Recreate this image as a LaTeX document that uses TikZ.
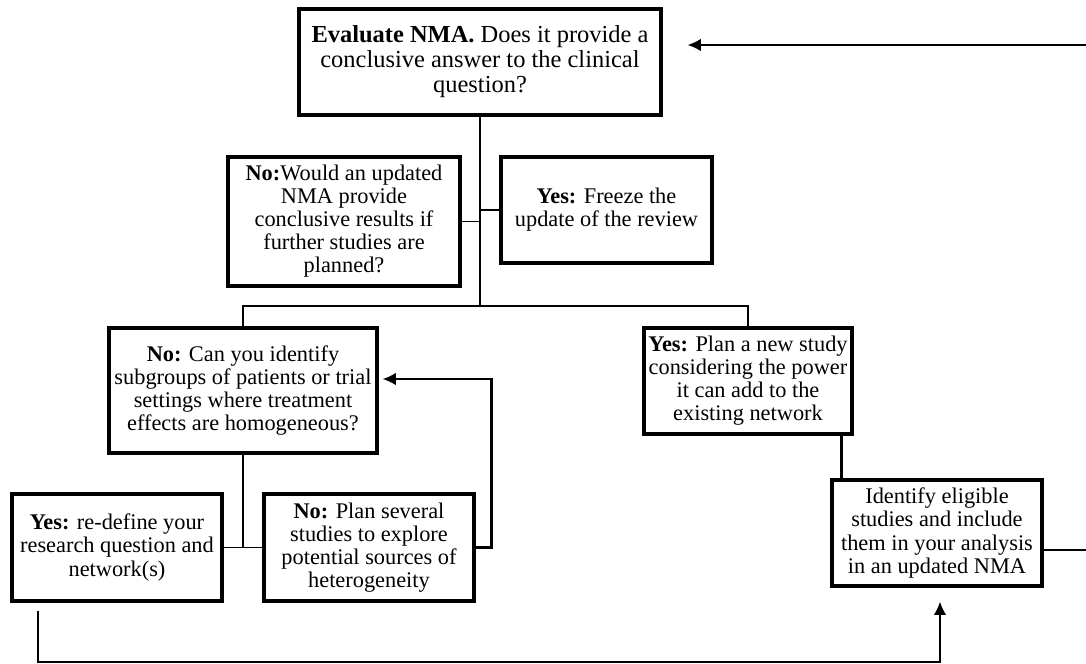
\documentclass[tikz,border=0pt]{standalone}
\usepackage{fontspec}
\setmainfont{Liberation Serif}
\usepackage{tikz}
\usetikzlibrary{calc, arrows.meta, positioning}

\begin{document}
\begin{tikzpicture}
      % Styles for boxes and lines
      \tikzset{box/.style={draw, line width=2.2pt, align=center, inner sep=0pt, font=\fontsize{15.9}{16.4}\selectfont}}
      \tikzset{link/.style={draw, line width=0.9pt}}
      \tikzset{flow/.style={draw, line width=1.5pt, -{Latex[length=9.5pt, width=9pt]}}}

      % Page frame
      \useasboundingbox (0,0) rectangle (27.15,16.6);
      \clip (0,0) rectangle (27.15,16.6);

      % Boxes
      \node[box, minimum width=9.05cm, minimum height=2.65cm, font=\fontsize{17.4}{17.8}\selectfont] (top) at (12.0,15.05)
        {\textbf{Evaluate NMA.} Does it provide a\\conclusive answer to the clinical\\question?};
      \node[box, minimum width=5.8cm, minimum height=3.225cm] (no1) at (8.6,11.0625)
        {\textbf{No:}Would an updated\\NMA provide\\conclusive results if\\further studies are\\planned?};
      \node[box, minimum width=5.275cm, minimum height=2.65cm] (yes1) at (15.1625,11.35)
        {\textbf{Yes:} Freeze the\\update of the review};
      \node[box, minimum width=6.7cm, minimum height=3.125cm] (no2) at (6.075,6.8375)
        {\textbf{No:} Can you identify\\subgroups of patients or trial\\settings where treatment\\effects are homogeneous?};
      \node[box, minimum width=5.2cm, minimum height=2.65cm] (yes2) at (18.7,7.075)
        {\textbf{Yes:} Plan a new study\\considering the power\\it can add to the\\existing network};
      \node[box, minimum width=5.25cm, minimum height=2.675cm] (yes3) at (2.925,2.9125)
        {\textbf{Yes:} re-define your\\research question and\\network(s)};
      \node[box, minimum width=5.25cm, minimum height=2.675cm] (no3) at (9.225,2.9125)
        {\textbf{No:} Plan several\\studies to explore\\potential sources of\\heterogeneity};
      \node[box, minimum width=5.25cm, minimum height=2.65cm] (ident) at (23.425,3.275)
        {Identify eligible\\studies and include\\them in your analysis\\in an updated NMA};

      % Tree under the first question
      \coordinate (split) at (top.south |- 0,8.95);
      \draw[link] (top.south) -- (split);
      \draw[link] (no1.east) -- (no1.east -| top.south);
      \draw[link] (yes1.west) -- (yes1.west -| top.south);
      \draw[link] (split) -| (no2.north);
      \draw[link] (split) -| (yes2.north);

      % Subgroup branch
      \draw[link, line width=1pt] (no2.south) -- (no2.south |- yes3.east);
      \draw[link] (yes3.east) -- (no3.west);
      \draw[flow] (no3.east) -- ++(0.4,0) |- ([xshift=0.1cm, yshift=0.2875cm]no2.east);

      % New study branch
      \draw[link, line width=1.5pt] ([xshift=-0.3cm]yes2.south east) -- ([xshift=-0.3cm]yes2.south east |- ident.north);
      \draw[flow] ([yshift=-0.425cm]ident.east) -- ++(4,0) |- ([xshift=0.625cm, yshift=0.425cm]top.east);

      % Back to the update
      \coordinate (floor) at (0,0.05);
      \coordinate (start) at ([xshift=0.69cm, yshift=-0.2cm]yes3.south west);
      \draw[flow] (start) -- (start |- floor) -| ([xshift=0.075cm, yshift=-0.35cm]ident.south);
\end{tikzpicture}
\end{document}
